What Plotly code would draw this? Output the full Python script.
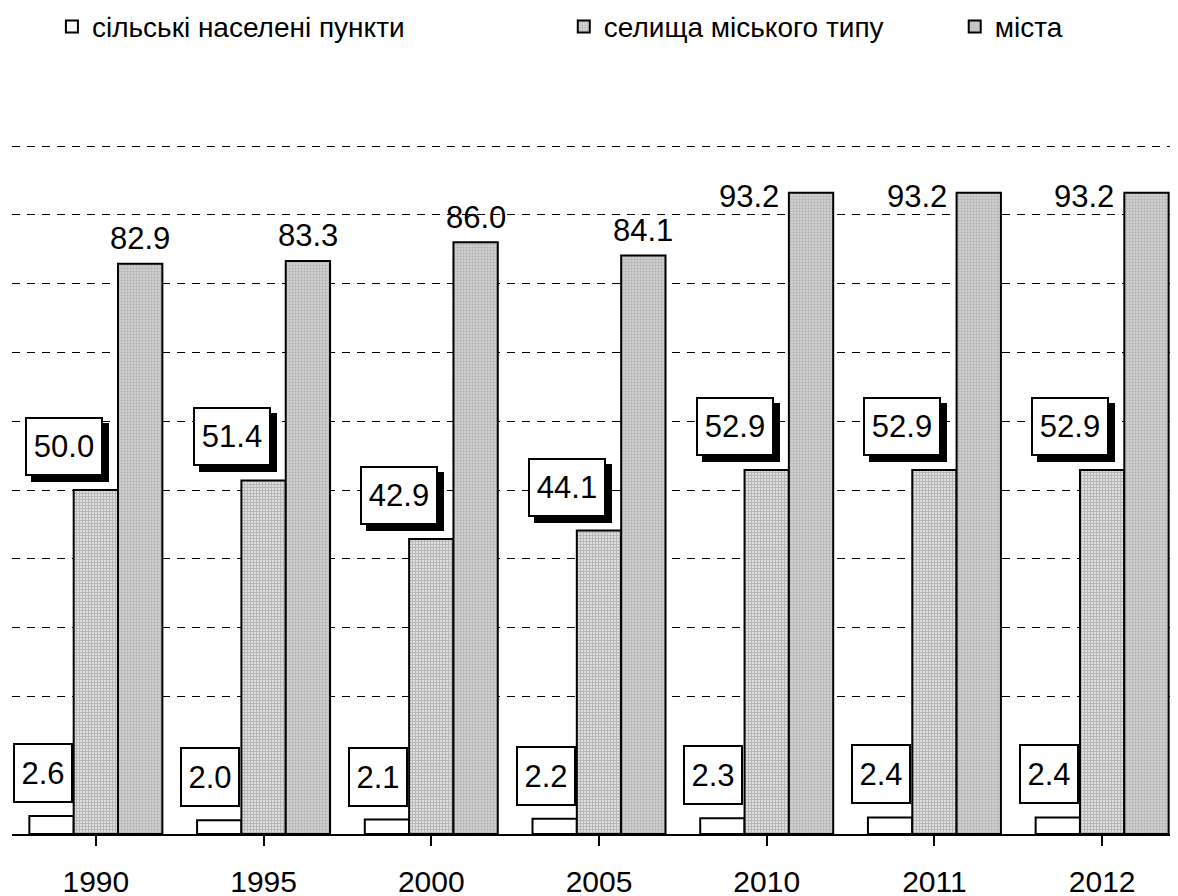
import plotly.graph_objects as go

years = ["1990", "1995", "2000", "2005", "2010", "2011", "2012"]
rural = [2.6, 2.0, 2.1, 2.2, 2.3, 2.4, 2.4]
settlements = [50.0, 51.4, 42.9, 44.1, 52.9, 52.9, 52.9]
cities = [82.9, 83.3, 86.0, 84.1, 93.2, 93.2, 93.2]
names = ["сільські населені пункти", "селища міського типу", "міста"]

FONT = "Liberation Sans, Arial, sans-serif"
BARGAP = 0.207
W = (1 - BARGAP) / 3  # bar width in category units

fig = go.Figure()
fig.add_trace(go.Bar(
    x=list(range(len(years))), y=rural, name=names[0], legend="legend",
    marker=dict(color="white", line=dict(color="black", width=2)),
))
fig.add_trace(go.Bar(
    x=list(range(len(years))), y=settlements, name=names[1], legend="legend2",
    marker=dict(color="white", line=dict(color="black", width=2),
                pattern=dict(shape="+", fgcolor="#707070", bgcolor="white",
                             size=3, solidity=0.75)),
))
fig.add_trace(go.Bar(
    x=list(range(len(years))), y=cities, name=names[2], legend="legend3",
    marker=dict(color="#c0c0c0", line=dict(color="black", width=2),
                pattern=dict(shape=".", fgcolor="#939393", bgcolor="#d6d6d6",
                             size=3, solidity=0.5)),
))

ann = []
for i, v in enumerate(rural):
    ann.append(dict(x=i - W, y=v, xref="x", yref="y", text=f"{v:.1f}",
                    showarrow=False, xanchor="center", yanchor="bottom",
                    xshift=-9, yshift=13, width=56, height=56,
                    bgcolor="white", bordercolor="black", borderwidth=2, borderpad=0,
                    font=dict(family=FONT, size=31, color="black")))
for i, v in enumerate(settlements):
    # shadow
    ann.append(dict(x=i, y=v, xref="x", yref="y", text=f"{v:.1f}",
                    showarrow=False, xanchor="center", yanchor="bottom",
                    xshift=-32 + 6, yshift=14 - 6, width=74, height=55,
                    bgcolor="black", bordercolor="black", borderwidth=2, borderpad=0,
                    font=dict(family=FONT, size=31, color="black")))
    ann.append(dict(x=i, y=v, xref="x", yref="y", text=f"{v:.1f}",
                    showarrow=False, xanchor="center", yanchor="bottom",
                    xshift=-32, yshift=14, width=74, height=55,
                    bgcolor="white", bordercolor="black", borderwidth=2, borderpad=0,
                    font=dict(family=FONT, size=31, color="black")))
for i, v in enumerate(cities):
    if i >= 4:
        ann.append(dict(x=i + W, y=v, xref="x", yref="y", text=f"{v:.1f}",
                        showarrow=False, xanchor="right", yanchor="middle",
                        xshift=-30, yshift=-4,
                        font=dict(family=FONT, size=31, color="black")))
    else:
        ann.append(dict(x=i + W, y=v, xref="x", yref="y", text=f"{v:.1f}",
                        showarrow=False, xanchor="center", yanchor="middle",
                        xshift=0, yshift=25,
                        font=dict(family=FONT, size=31, color="black")))

leg_common = dict(orientation="h", yanchor="middle", xanchor="left", y=1.17,
                  font=dict(family=FONT, size=28, color="black"),
                  bgcolor="rgba(0,0,0,0)", borderwidth=0)

fig.update_layout(
    width=1178, height=896,
    margin=dict(l=4, r=0, t=136, b=70, autoexpand=False),
    paper_bgcolor="white", plot_bgcolor="white",
    barmode="group", bargap=BARGAP, bargroupgap=0,
    showlegend=True,
    legend=dict(x=0.034, **leg_common),
    legend2=dict(x=0.470, **leg_common),
    legend3=dict(x=0.803, **leg_common),
    annotations=ann,
    font=dict(family=FONT, color="black"),
    xaxis=dict(
        tickmode="array", tickvals=list(range(len(years))), ticktext=years,
        range=[-0.5, 6.5], showgrid=False, zeroline=False, automargin=False,
        showline=True, linecolor="black", linewidth=2,
        ticks="outside", tickson="boundaries", ticklen=10, tickwidth=2,
        tickcolor="black", ticklabelstandoff=10,
        tickfont=dict(family=FONT, size=30, color="black"),
    ),
    yaxis=dict(
        range=[0, 100.3], tickvals=[20, 30, 40, 50, 60, 70, 80, 90, 100],
        showticklabels=False, showgrid=True, gridcolor="black", gridwidth=1,
        griddash="8px,7px", zeroline=False, showline=False, automargin=False,
    ),
)

fig.write_html("out.html")
